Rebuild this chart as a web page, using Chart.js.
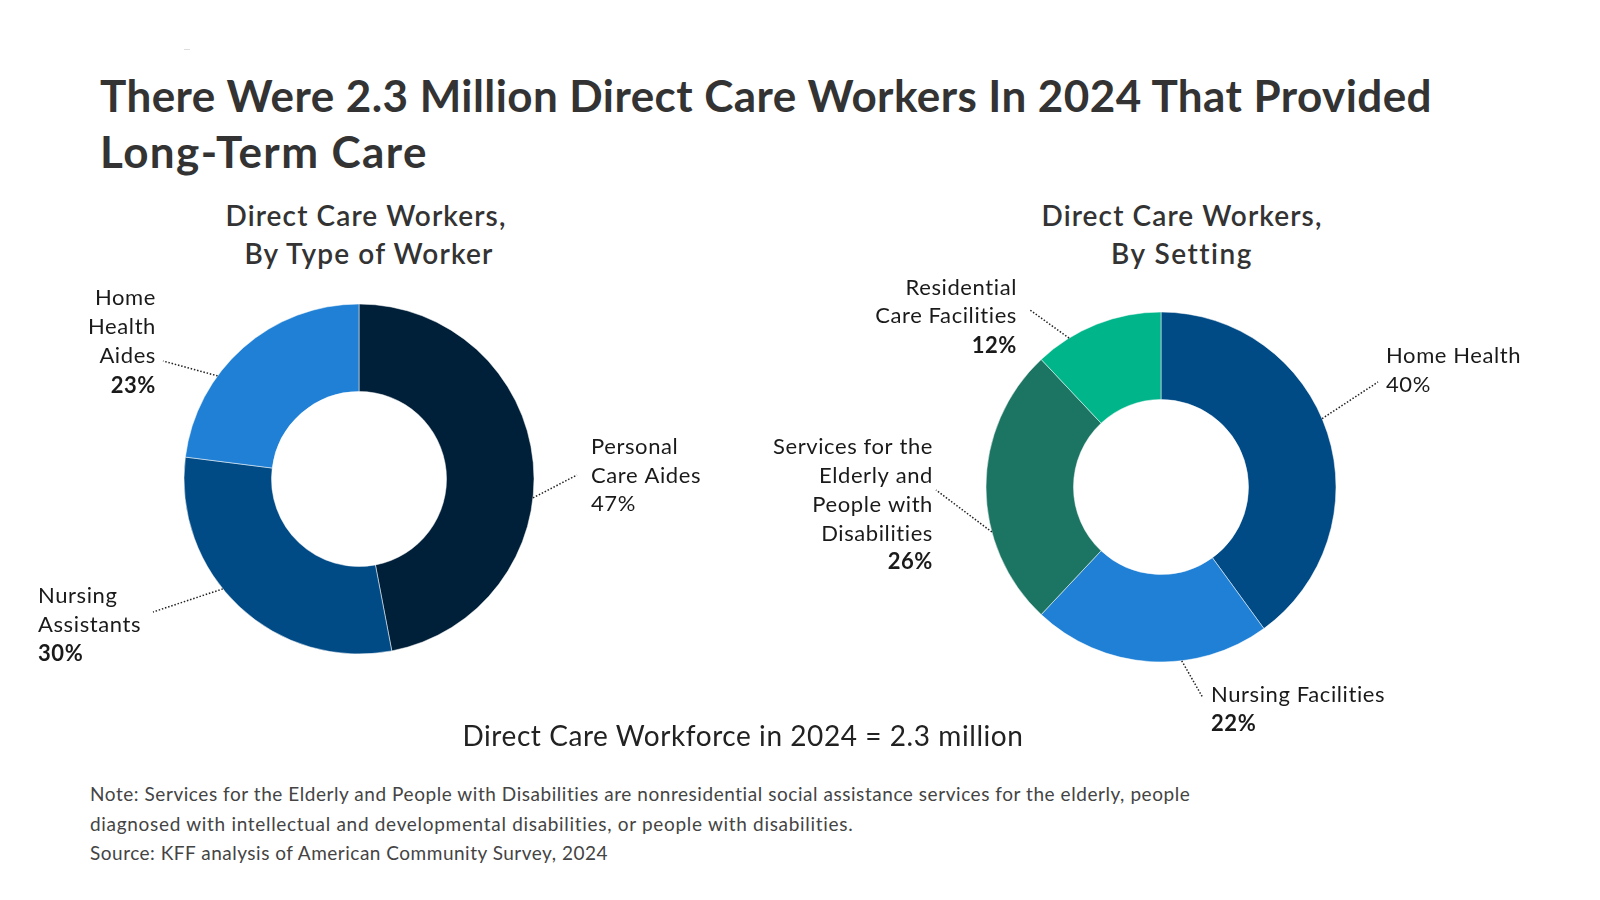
<!DOCTYPE html>
<html>
<head>
<meta charset="utf-8">
<script src="https://cdn.jsdelivr.net/npm/chart.js@4"></script>
<style>
  html, body { margin:0; padding:0; background:#fff; width:1600px; height:900px; overflow:hidden; }
  body { position:relative; font-family: Lato, "Open Sans", sans-serif; }
  .t { position:absolute; white-space:nowrap; }
  .title { left:100px; font-weight:700; font-size:44px; color:#333; line-height:56px; }
  .sub { font-weight:600; font-size:28px; color:#333; line-height:38px; text-align:center; }
  .center { font-size:28px; color:#222; line-height:36px; }
  .note { left:90px; font-size:19px; color:#444; line-height:29px; }
  canvas { position:absolute; }
</style>
</head>
<body>
<div class="t" style="left:184px;top:49px;width:6px;height:1px;background:#ddd"></div>

<div class="t title fit" data-w="1332" style="top:67px">There Were 2.3 Million Direct Care Workers In 2024 That Provided</div>
<div class="t title fit" data-w="328" style="top:123px">Long-Term Care</div>

<div class="t sub fit cx" data-w="281" data-cx="366" style="top:196px">Direct Care Workers,</div>
<div class="t sub fit cx" data-w="249" data-cx="369" style="top:234px">By Type of Worker</div>
<div class="t sub fit cx" data-w="281" data-cx="1182" style="top:196px">Direct Care Workers,</div>
<div class="t sub fit cx" data-w="141" data-cx="1182" style="top:234px">By Setting</div>

<canvas id="c1" width="718" height="440" style="left:0px;top:259px"></canvas>
<canvas id="c2" width="800" height="520" style="left:761px;top:227px"></canvas>

<div class="t center fit cx" data-w="561" data-cx="743" style="top:717px">Direct Care Workforce in 2024 = 2.3 million</div>

<div class="t note fit" data-w="1101" style="top:779px">Note: Services for the Elderly and People with Disabilities are nonresidential social assistance services for the elderly, people</div>
<div class="t note fit" data-w="764" style="top:809px">diagnosed with intellectual and developmental disabilities, or people with disabilities.</div>
<div class="t note fit" data-w="518" style="top:838px">Source: KFF analysis of American Community Survey, 2024</div>

<script>
// ---- Data ----
const typeCategories = ['Personal Care Aides', 'Nursing Assistants', 'Home Health Aides'];
const typeValues = [47, 30, 23];
const typeLabelLines = [['Personal', 'Care Aides'], ['Nursing', 'Assistants'], ['Home', 'Health', 'Aides']];
const typePctBold = [false, true, true];

const settingCategories = ['Home Health', 'Nursing Facilities', 'Services for the Elderly and People with Disabilities', 'Residential Care Facilities'];
const settingValues = [40, 22, 26, 12];
const settingLabelLines = [['Home Health'], ['Nursing Facilities'], ['Services for the', 'Elderly and', 'People with', 'Disabilities'], ['Residential', 'Care Facilities']];
const settingPctBold = [false, true, true, true];

// ---- Styles / layout ----
const typeColors = ['#001f38', '#004a86', '#1f80d5'];
const settingColors = ['#004a86', '#1f80d5', '#1b7562', '#00b58a'];

// leader: angle (deg, clockwise from top) on outer edge, end offset from center; text offset and align
const typeLayout = [
  { ang: 96.2,  end: [218, -4],   tx: 232,  ty: [-32, -3, 25], align: 'left' },
  { ang: 231.1, end: [-206, 133], tx: -321, ty: [117, 146, 175], align: 'left' },
  { ang: 306.1, end: [-196, -118], tx: -203, ty: [-181, -152, -123, -93], align: 'right' }
];
const settingLayout = [
  { ang: 67,    end: [217, -105], tx: 225,  ty: [-131, -102], align: 'left' },
  { ang: 173.2, end: [42, 211],   tx: 50,   ty: [208, 237], align: 'left' },
  { ang: 255.1, end: [-225, 3],   tx: -228, ty: [-40, -11, 18, 47, 75], align: 'right' },
  { ang: 328.3, end: [-131, -177], tx: -144, ty: [-199, -171, -141], align: 'right' }
];

function fitTexts() {
  document.querySelectorAll('.fit').forEach(el => {
    el.style.letterSpacing = '0px';
    const w = el.getBoundingClientRect().width;
    const target = +el.dataset.w;
    const n = el.textContent.length;
    const ls = Math.max(-2, Math.min(2, (target - w) / n));
    el.style.letterSpacing = ls + 'px';
    if (el.classList.contains('cx')) {
      const w2 = el.getBoundingClientRect().width;
      el.style.left = (+el.dataset.cx - w2 / 2) + 'px';
    }
  });
}

function labelPlugin(lines, bold, layout) {
  return {
    id: 'calloutLabels',
    afterDraw(chart) {
      const ctx = chart.ctx;
      const meta = chart.getDatasetMeta(0);
      const vals = chart.data.datasets[0].data;
      meta.data.forEach((arc, i) => {
        const L = layout[i];
        const cx = arc.x, cy = arc.y, r = arc.outerRadius;
        const a = L.ang * Math.PI / 180;
        const sx = cx + Math.sin(a) * r, sy = cy - Math.cos(a) * r;
        const ex = cx + L.end[0], ey = cy + L.end[1];
        ctx.save();
        ctx.strokeStyle = '#222';
        ctx.lineWidth = 1.5;
        ctx.setLineDash([1.5, 1.8]);
        ctx.beginPath();
        ctx.moveTo(sx, sy);
        ctx.lineTo(ex, ey);
        ctx.stroke();
        ctx.setLineDash([]);
        ctx.fillStyle = '#1a1a1a';
        ctx.textAlign = L.align;
        ctx.textBaseline = 'middle';
        if ('letterSpacing' in ctx) ctx.letterSpacing = '0.6px';
        const all = lines[i].concat([vals[i] + '%']);
        all.forEach((t, j) => {
          const isPct = j === all.length - 1;
          ctx.font = (isPct && bold[i] ? '700 ' : '400 ') + '22px Lato, "Open Sans", sans-serif';
          ctx.fillText(t, cx + L.tx, cy + L.ty[j]);
        });
        ctx.restore();
      });
    }
  };
}

function makeChart(id, cats, vals, colors, lines, bold, layout) {
  return new Chart(document.getElementById(id), {
    type: 'doughnut',
    data: { labels: cats, datasets: [{ data: vals, backgroundColor: colors, borderColor: 'rgba(255,255,255,0.5)', borderWidth: 1 }] },
    options: {
      responsive: false,
      animation: false,
      radius: 175,
      cutout: '50%',
      rotation: 0,
      layout: { padding: 0 },
      plugins: { legend: { display: false }, tooltip: { enabled: false }, title: { display: false } }
    },
    plugins: [labelPlugin(lines, bold, layout)]
  });
}

function init() {
  fitTexts();
  makeChart('c1', typeCategories, typeValues, typeColors, typeLabelLines, typePctBold, typeLayout);
  makeChart('c2', settingCategories, settingValues, settingColors, settingLabelLines, settingPctBold, settingLayout);
}
if (document.fonts && document.fonts.ready) {
  document.fonts.load('700 44px Lato').then(() => document.fonts.load('22px Lato')).then(() => document.fonts.load('600 28px Lato')).then(init, init);
} else { init(); }
</script>
</body>
</html>
